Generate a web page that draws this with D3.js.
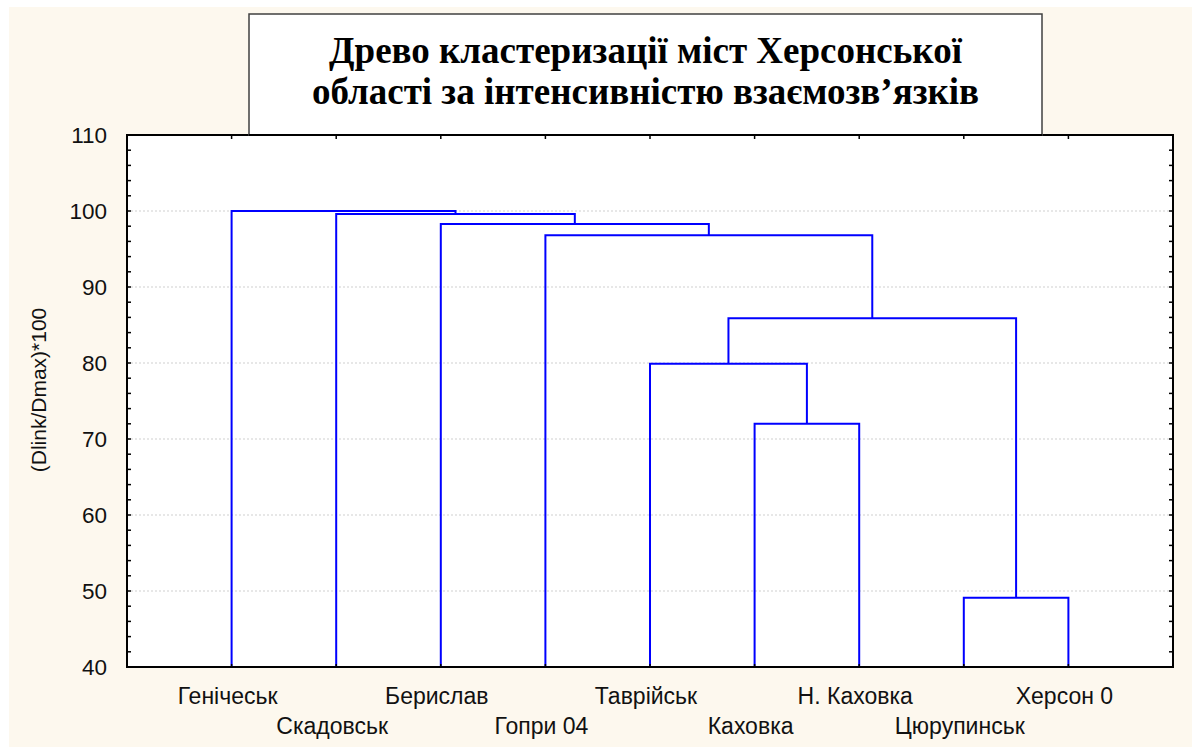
<!DOCTYPE html>
<html><head><meta charset="utf-8">
<script src="https://cdn.jsdelivr.net/npm/d3@7"></script>
<style>html,body{margin:0;padding:0;background:#fff;}svg{display:block;}</style>
</head><body>
<svg id="c" width="1195" height="747"></svg>
<script>
// ---- data ----
const leaves = ["Генічеськ","Скадовськ","Берислав","Гопри 04","Таврійськ","Каховка","Н. Каховка","Цюрупинськ","Херсон 0"];
// linkage: [childA, childB, height]; new cluster ids start at leaves.length
const linkA = [7, 5, 4, 11, 3, 2, 1, 0];
const linkB = [8, 6, 10, 9, 12, 13, 14, 15];
const linkH = [49.1, 72.0, 79.9, 85.9, 96.8, 98.3, 99.6, 100.0];
const yTicks = [40, 50, 60, 70, 80, 90, 100, 110];
const titleLines = ["Древо кластеризації міст Херсонської", "області за інтенсивністю взаємозв’язків"];
const yTitle = "(Dlink/Dmax)*100";

const svg = d3.select("#c");
const L = 127, R = 1173, T = 135, B = 667;

svg.append("rect").attr("x", 9).attr("y", 7).attr("width", 1183).attr("height", 740).attr("fill", "#fdf8ee");
svg.append("rect").attr("x", L).attr("y", T).attr("width", R - L).attr("height", B - T).attr("fill", "#fff");

const x = d3.scaleLinear().domain([0, leaves.length + 1]).range([L, R]);
const y = d3.scaleLinear().domain([40, 110]).range([B, T]);

// grid
svg.append("g").selectAll("line").data(yTicks.filter(v => v > 40 && v < 110)).join("line")
  .attr("x1", L).attr("x2", R).attr("y1", d => y(d)).attr("y2", d => y(d))
  .attr("stroke", "#cfcfcf").attr("stroke-width", 1).attr("stroke-dasharray", "2,2");

// dendrogram
const pos = leaves.map((d, i) => ({ x: x(i + 1), h: 40 }));
const g = svg.append("g").attr("fill", "none").attr("stroke", "#0000ff").attr("stroke-width", 2);
linkA.forEach((a, k) => {
  const b = linkB[k], h = linkH[k];
  const pa = pos[a], pb = pos[b];
  g.append("path").attr("d",
    `M${pa.x},${y(pa.h)}V${y(h)}H${pb.x}V${y(pb.h)}`);
  pos.push({ x: (pa.x + pb.x) / 2, h: h });
});

// axes
const minor = d3.range(40, 111, 2);
const axL = d3.axisLeft(y).tickValues(yTicks).tickSize(0).tickPadding(20).tickFormat(d3.format("d"));
const ga = svg.append("g").attr("transform", `translate(${L},0)`).call(axL);
ga.select(".domain").remove();
ga.selectAll("text").attr("font-family", "Liberation Sans, Arial, sans-serif").attr("font-size", 22.5).attr("fill", "#111");

const tk = svg.append("g").attr("stroke", "#000").attr("stroke-width", 1.5);
minor.forEach(v => {
  tk.append("line").attr("x1", L).attr("x2", L + 4).attr("y1", y(v)).attr("y2", y(v));
  tk.append("line").attr("x1", R).attr("x2", R - 4).attr("y1", y(v)).attr("y2", y(v));
});
leaves.forEach((d, i) => {
  tk.append("line").attr("x1", x(i + 1)).attr("x2", x(i + 1)).attr("y1", T).attr("y2", T + 4);
  tk.append("line").attr("x1", x(i + 1)).attr("x2", x(i + 1)).attr("y1", B).attr("y2", B - 3).attr("stroke", "#000");
});

svg.append("rect").attr("x", L).attr("y", T).attr("width", R - L).attr("height", B - T)
  .attr("fill", "none").attr("stroke", "#000").attr("stroke-width", 2);

// leaf labels
svg.append("g").selectAll("text").data(leaves).join("text")
  .attr("x", (d, i) => x(i + 1) - 4)
  .attr("y", (d, i) => i % 2 === 0 ? 704 : 734)
  .attr("text-anchor", "middle")
  .attr("font-family", "Liberation Sans, Arial, sans-serif").attr("font-size", 23).attr("fill", "#111")
  .text(d => d);

// y title
svg.append("text").attr("transform", "translate(46,390) rotate(-90)")
  .attr("text-anchor", "middle")
  .attr("font-family", "Liberation Sans, Arial, sans-serif").attr("font-size", 21).attr("fill", "#111")
  .text(yTitle);

// title box
svg.append("rect").attr("x", 249).attr("y", 14).attr("width", 1042 - 249).attr("height", T - 14)
  .attr("fill", "#fff").attr("stroke", "#404040").attr("stroke-width", 1.5);
svg.append("g").selectAll("text").data(titleLines).join("text")
  .attr("x", 645.5).attr("y", (d, i) => 63 + i * 41)
  .attr("text-anchor", "middle")
  .attr("font-family", "Liberation Serif, Times New Roman, serif").attr("font-weight", "bold")
  .attr("font-size", 37).attr("fill", "#000")
  .text(d => d);
svg.append("line").attr("x1", 249).attr("x2", 1042).attr("y1", T).attr("y2", T).attr("stroke", "#000").attr("stroke-width", 2);
</script>
</body></html>
